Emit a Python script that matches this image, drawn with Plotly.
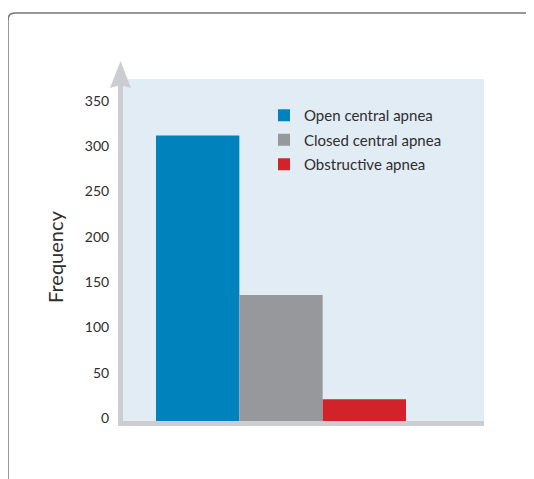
import plotly.graph_objects as go

# ---- data ----
series_names = ["Open central apnea", "Closed central apnea", "Obstructive apnea"]
series_values = [315, 139, 24]
series_colors = ["#0083bd", "#97989b", "#d2232a"]
y_ticks = [0, 50, 100, 150, 200, 250, 300, 350]
y_title = "Frequency"

AXIS_GREY = "#cbcdd0"
TEXT = "#2e2e2e"
FONT = "Lato"

fig = go.Figure()
for name, val, col in zip(series_names, series_values, series_colors):
    fig.add_trace(go.Bar(
        x=[0], y=[val], name=name, legendgroup=name,
        marker=dict(color=col, line=dict(width=0)),
        hoverinfo="name+y",
    ))

# page body has an 8px margin, so the figure is sized/positioned to compensate
W, H = 526, 471
ml, mt = 115, 71
PW, PH = 361, 342
mr = W - ml - PW
mb = H - mt - PH

fig.update_layout(
    width=W, height=H,
    margin=dict(l=ml, r=mr, t=mt, b=mb, pad=0),
    paper_bgcolor="white",
    plot_bgcolor="#e2ecf5",
    barmode="group",
    bargap=0.2,
    bargroupgap=0,
    font=dict(family=FONT, size=14, color=TEXT),
    showlegend=True,
    legend=dict(
        x=0.3906, y=0.9415, xanchor="left", yanchor="top",
        bgcolor="rgba(0,0,0,0)", borderwidth=0,
        font=dict(family=FONT, size=15, color=TEXT),
        tracegroupgap=2,
        traceorder="grouped",
    ),
    xaxis=dict(
        range=[-0.5056, 0.6496], showticklabels=False, ticks="",
        showgrid=False, zeroline=False,
        showline=True, linewidth=5, linecolor=AXIS_GREY,
        fixedrange=True,
    ),
    yaxis=dict(
        range=[0, 377.5], tickvals=y_ticks,
        ticktext=[str(v) for v in y_ticks],
        ticks="", showgrid=False, zeroline=False,
        showline=True, linewidth=5, linecolor=AXIS_GREY,
        tickfont=dict(family=FONT, size=14, color=TEXT),
        ticklabelstandoff=6,
        ticklabelshift=-3,
        fixedrange=True,
    ),
)

# y-axis title
fig.add_annotation(
    text=y_title, xref="paper", yref="paper",
    x=-68 / PW, y=164 / PH,
    xanchor="center", yanchor="middle", textangle=-90, showarrow=False,
    font=dict(family=FONT, size=20, color=TEXT),
)

# arrow head on top of the y axis
fig.add_shape(
    type="path", xref="paper", yref="paper",
    xsizemode="pixel", ysizemode="pixel", xanchor=0, yanchor=1,
    path="M -13,-9 L -2.5,18 L 8,-9 L -2.5,-6 Z",
    fillcolor=AXIS_GREY, line=dict(width=0), layer="above",
)

# rounded frame around the figure (open to right and bottom)
fig.add_shape(
    type="path", xref="paper", yref="paper",
    xsizemode="pixel", ysizemode="pixel", xanchor=0, yanchor=0,
    path="M -115,-80 L -115,401 Q -115,408 -108,408 L 430,408",
    line=dict(color="#777777", width=1.5), layer="above",
)

fig.write_html("out.html")
